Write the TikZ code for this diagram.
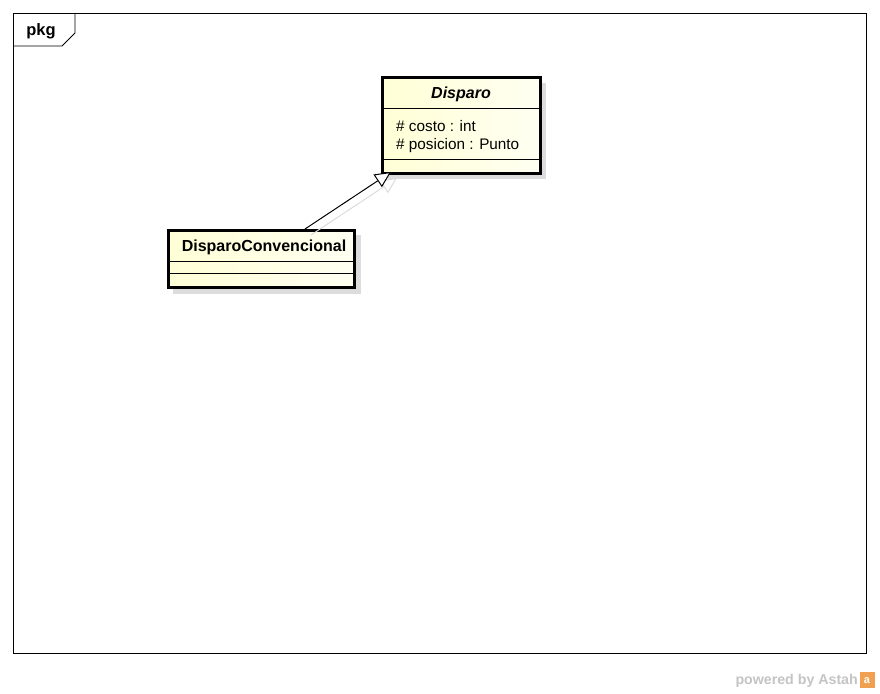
\documentclass[tikz,border=0pt]{standalone}
\usepackage{fontspec}
\setmainfont{Liberation Sans}
\usetikzlibrary{arrows.meta}
\definecolor{clsfillA}{HTML}{FFFFD6}
\definecolor{clsfillB}{HTML}{FFFFF2}
\definecolor{shadowgray}{HTML}{DCDCDC}
\definecolor{markgray}{HTML}{C4C4C4}
\definecolor{astahorange}{HTML}{F0A050}
\tikzset{
  frame/.style={draw=black, line width=0.8pt},
  clsbox/.style={draw=black, line width=3pt, left color=clsfillA, right color=clsfillB},
  clsshadow/.style={fill=shadowgray, draw=none},
  sepline/.style={draw=black, line width=0.8pt},
  gen/.style={draw=black, line width=1pt, -{Triangle[open, length=16pt, width=15pt, fill=white]}},
  genshadow/.style={draw=shadowgray, line width=1pt, -{Triangle[open, length=16pt, width=15pt]}},
  clstitle/.style={font=\fontsize{16}{18}\selectfont\bfseries, inner sep=0pt},
  attr/.style={font=\fontsize{15.3}{17}\selectfont, inner sep=0pt, anchor=west},
}
\begin{document}
\begin{tikzpicture}[x=1pt, y=-1pt]
\useasboundingbox (0,0) rectangle (880,693);
\fill[white] (0,0) rectangle (880,693);

% package frame and its tab
\draw[frame] (13,13) rectangle (866,653);
\draw[frame] (75,13) -- (75,33) -- (62,46) -- (13,46);
\node[font=\fontsize{16.5}{18}\selectfont\bfseries, inner sep=0pt] (pkg) at (41,31) {pkg};

% shadows
\fill[clsshadow] (388,83) rectangle (546,179);
\fill[clsshadow] (173,235) rectangle (361,294);

% class Disparo
\path[clsbox] (382,77) rectangle (540,173);
\draw[sepline] (382,108) -- (540,108);
\draw[sepline] (382,159) -- (540,159);
\node[clstitle, font=\fontsize{16}{18}\selectfont\bfseries\itshape] (disparo) at (461,94) {Disparo};
\node[attr] (costo) at (396,126) {\# costo : int};
\node[attr] (posicion) at (396,146) {\# posicion : Punto};

% class DisparoConvencional
\path[clsbox] (168,230) rectangle (354,287);
\draw[sepline] (168,261) -- (354,261);
\draw[sepline] (168,273) -- (354,273);
\node[clstitle] (conv) at (264,247) {DisparoConvencional};

% generalization
\coordinate (genfrom) at (305,229);
\coordinate (gento) at (391,172);
\coordinate (genfromS) at (311,235);
\coordinate (gentoS) at (397,178);
\draw[genshadow] (genfromS) -- (gentoS);
\draw[gen] (genfrom) -- (gento);

% watermark
\node[font=\fontsize{14.2}{16}\selectfont\bfseries, text=markgray, inner sep=0pt, anchor=east] (mark) at (858,681) {powered by Astah};
\fill[astahorange] (860,672) rectangle (875,688);
\node[font=\fontsize{11}{11}\selectfont\bfseries, text=white, inner sep=0pt] (logo) at (867,681) {a};
\end{tikzpicture}
\end{document}
